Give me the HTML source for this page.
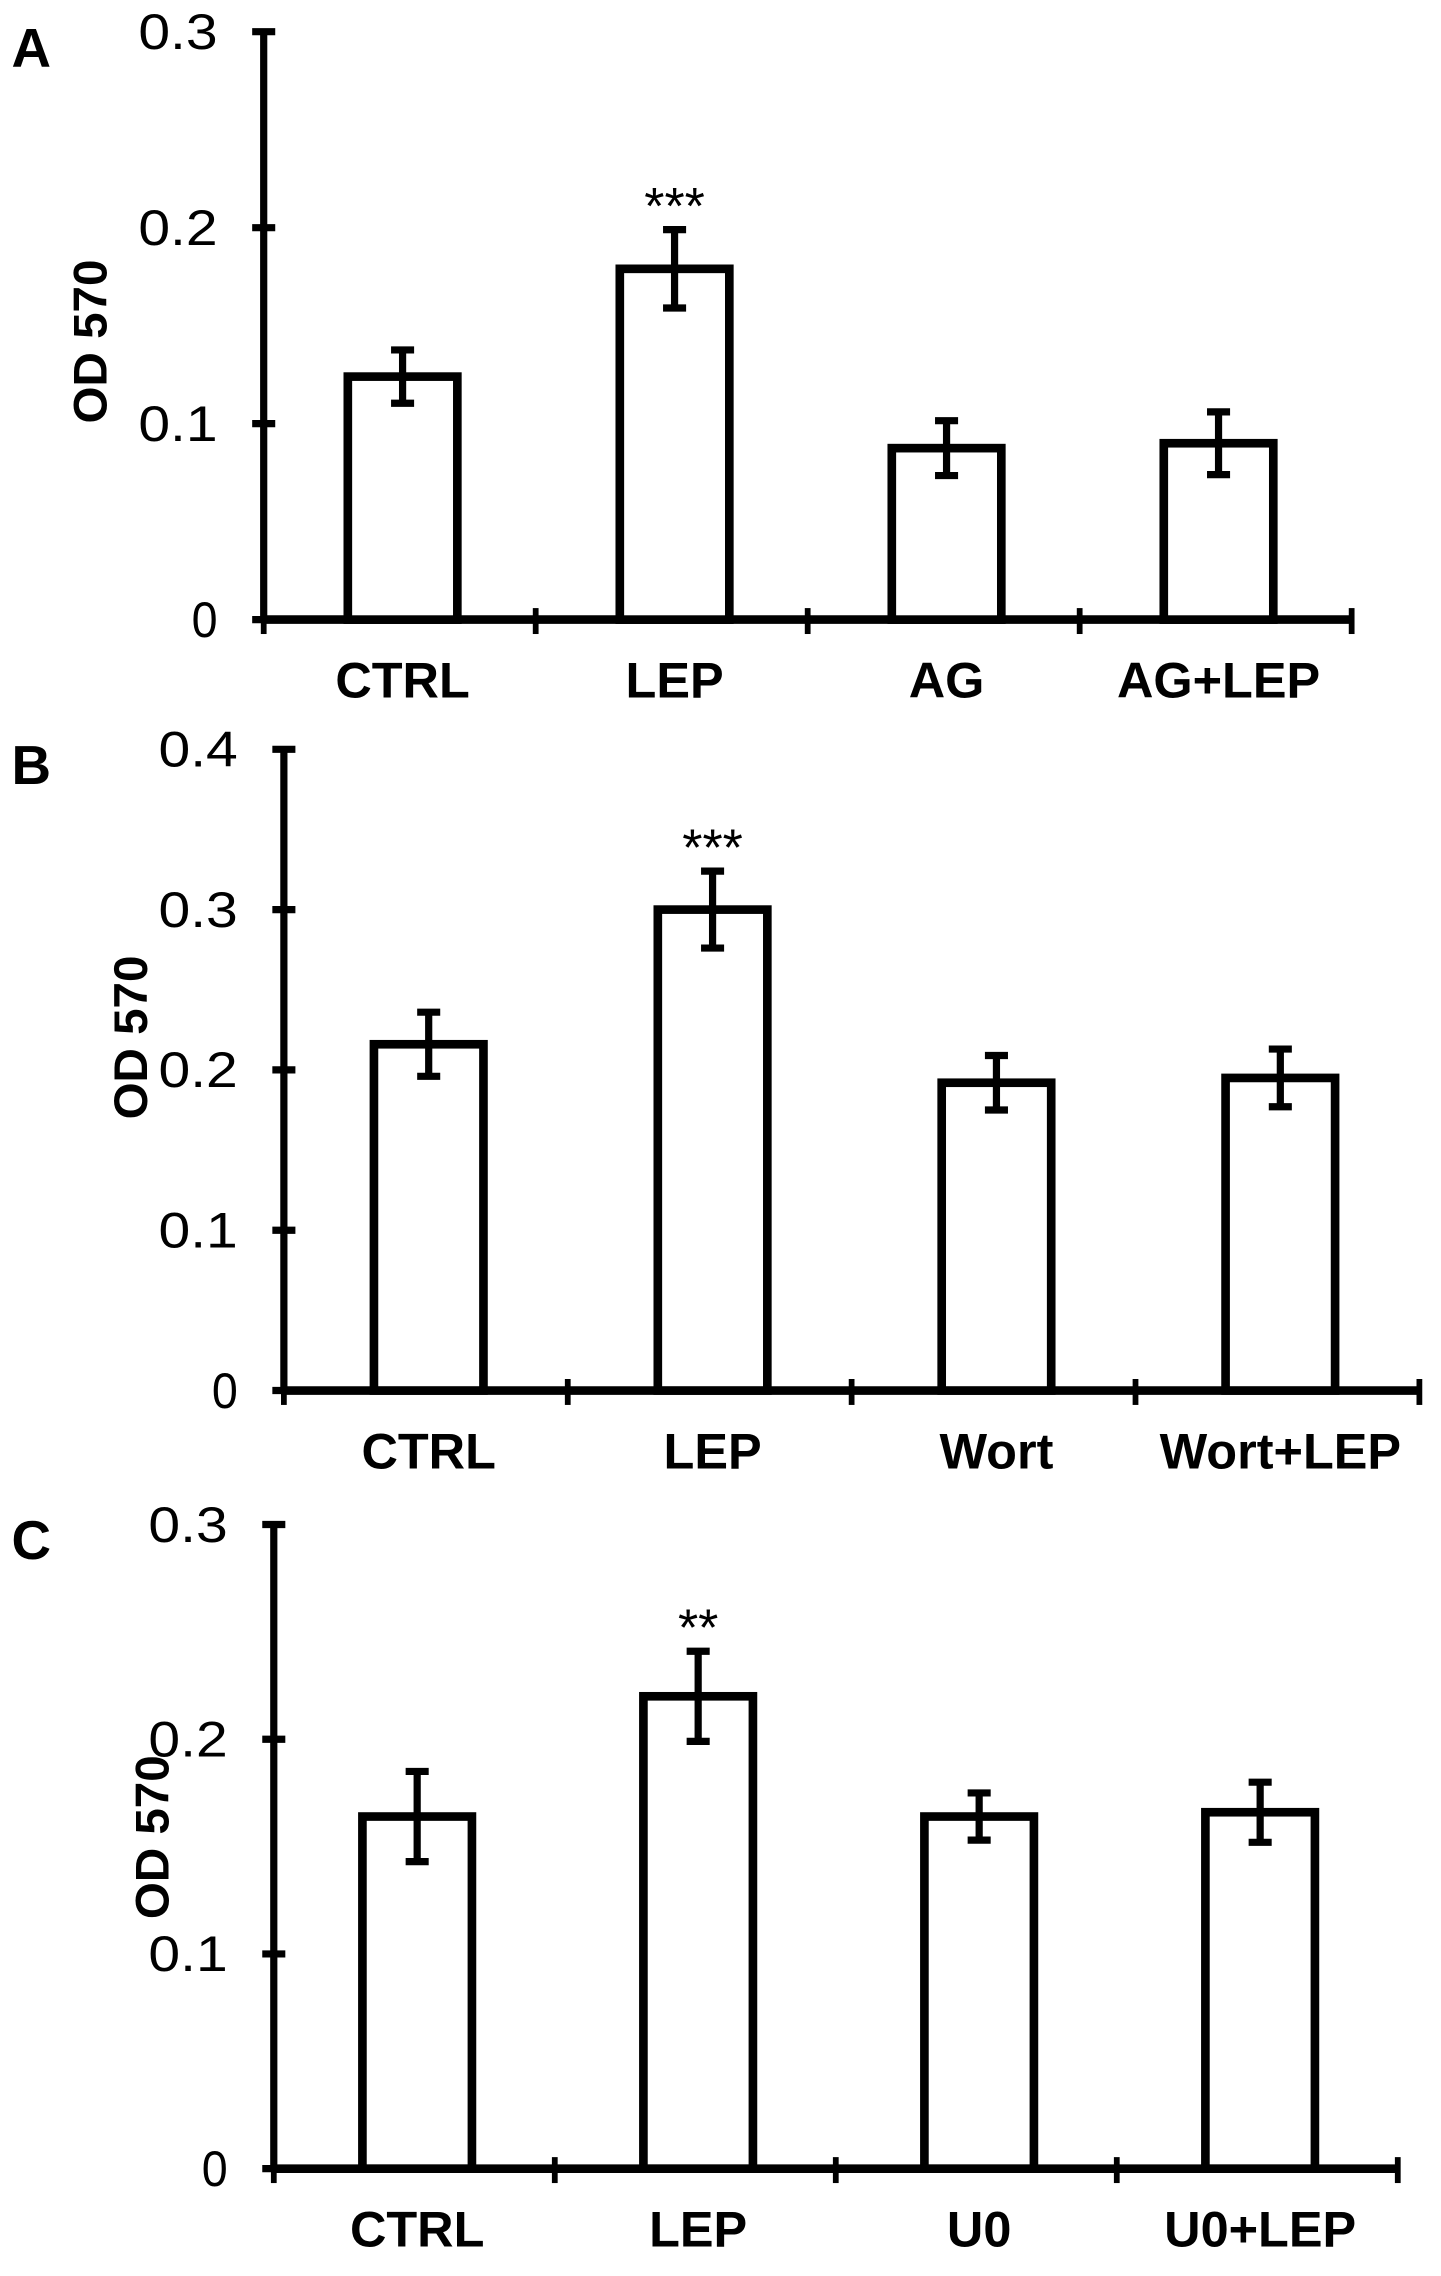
<!DOCTYPE html>
<html><head><meta charset="utf-8"><style>
html,body{margin:0;padding:0;background:#fff;}
svg{display:block;}
text{font-family:"Liberation Sans",Arial,sans-serif;fill:#000;}
</style></head><body>
<svg id="fig" width="1441" height="2276" viewBox="0 0 1000 1579.5" preserveAspectRatio="none" xmlns="http://www.w3.org/2000/svg"></svg>
<script>
const catsA = ["CTRL","LEP","AG","AG+LEP"];
const valsA = [0.124, 0.179, 0.0875, 0.090];
const errsA = [0.0136, 0.020, 0.014, 0.016];
const ticksA = ["0","0.1","0.2","0.3"];
const sigA = ["","***","",""];

const catsB = ["CTRL","LEP","Wort","Wort+LEP"];
const valsB = [0.216, 0.300, 0.192, 0.195];
const errsB = [0.020, 0.024, 0.017, 0.018];
const ticksB = ["0","0.1","0.2","0.3","0.4"];
const sigB = ["","***","",""];

const catsC = ["CTRL","LEP","U0","U0+LEP"];
const valsC = [0.164, 0.220, 0.164, 0.166];
const errsC = [0.021, 0.021, 0.011, 0.014];
const ticksC = ["0","0.1","0.2","0.3"];
const sigC = ["","**","",""];

const NS="http://www.w3.org/2000/svg";
const svg=document.getElementById('fig');
function mk(tag,attrs,parent){const e=document.createElementNS(NS,tag);for(const k in attrs)e.setAttribute(k,attrs[k]);(parent||svg).appendChild(e);return e;}

function panel(id,letter,cats,vals,errs,ticks,sig,L){
  const g=mk('g',{});
  
  
  const ymax=parseFloat(ticks[ticks.length-1]);
  const y=v=>L.y0-(v/ymax)*(L.y0-L.yTop);
  const step=(L.xEnd-L.x0)/cats.length;
  const x=i=>L.x0+step*(i+0.5);
  const t=mk('text',{x:8,y:L.yTop+24,'font-size':38,'font-weight':'bold'},g);
  t.textContent=letter;
  
  
  const ya=mk('line',{x1:L.x0,y1:L.yTop,x2:L.x0,y2:L.y0,stroke:'#000','stroke-width':5},g);
  
  
  ticks.forEach(tk=>{
    const v=parseFloat(tk),yy=y(v);
    mk('line',{x1:L.x0-8,y1:yy,x2:L.x0+8,y2:yy,stroke:'#000','stroke-width':5},g);
    const tl=mk('text',{x:L.x0-32,y:yy+12,'font-size':35,'text-anchor':'end','textLength':tk.length>1?55:18,'lengthAdjust':'spacingAndGlyphs'},g);
    tl.textContent=tk;
    
    
  });
  const xa=mk('line',{x1:L.x0,y1:L.y0,x2:L.xEnd,y2:L.y0,stroke:'#000','stroke-width':6},g);
  
  
  for(let i=0;i<=cats.length;i++){
    const xx=L.x0+step*i;
    mk('line',{x1:xx,y1:L.y0-8,x2:xx,y2:L.y0+10,stroke:'#000','stroke-width':4},g);
  }
  const yl=mk('text',{x:0,y:0,'font-size':33,'font-weight':'bold','text-anchor':'middle',transform:`translate(${L.labX},${L.labY}) rotate(-90)`},g);
  yl.textContent='OD 570';
  
  
  const bw=76;
  cats.forEach((c,i)=>{
    const cx=x(i)+2,top=y(vals[i]);
    const r=mk('rect',{x:cx-bw/2,y:top,width:bw,height:L.y0-top,fill:'#fff',stroke:'#000','stroke-width':6},g);
    
    
    const e1=y(vals[i]+errs[i]),e2=y(vals[i]-errs[i]);
    const eg=mk('g',{stroke:'#000','stroke-width':5},g);
    
    
    mk('line',{x1:cx,y1:e1,x2:cx,y2:e2},eg);
    mk('line',{x1:cx-8,y1:e1,x2:cx+8,y2:e1},eg);
    mk('line',{x1:cx-8,y1:e2,x2:cx+8,y2:e2},eg);
    if(sig[i]){
      const s=mk('text',{x:cx,y:e1-4,'font-size':36,'text-anchor':'middle'},g);
      s.textContent=sig[i];
      
      
    }
    const cl=mk('text',{x:cx,y:L.y0+54,'font-size':35,'font-weight':'bold','text-anchor':'middle'},g);
    cl.textContent=c;
    
    
  });
}
panel('a','A',catsA,valsA,errsA,ticksA,sigA,{x0:183,xEnd:938,yTop:22,y0:430,labX:74,labY:237});
panel('b','B',catsB,valsB,errsB,ticksB,sigB,{x0:197,xEnd:985,yTop:520,y0:965,labX:102,labY:720});
panel('c','C',catsC,valsC,errsC,ticksC,sigC,{x0:190,xEnd:970,yTop:1058,y0:1505,labX:117,labY:1275});
</script>
</body></html>
